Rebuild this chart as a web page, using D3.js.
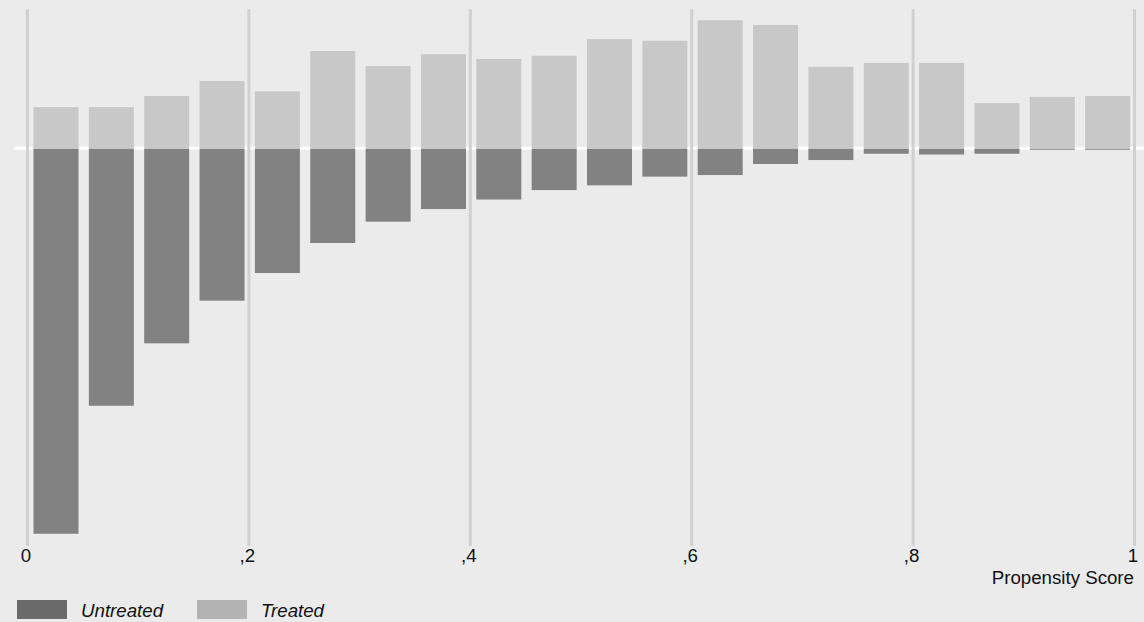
<!DOCTYPE html>
<html>
<head>
<meta charset="utf-8">
<script src="https://cdn.jsdelivr.net/npm/d3@7"></script>
<style>
  html, body { margin: 0; padding: 0; background: #ebebeb; }
  svg { display: block; font-family: "Liberation Sans", Arial, Helvetica, sans-serif; }
</style>
</head>
<body>
<svg id="chart" width="1144" height="622"></svg>
<script>
// ---- data (densities per 0.05-wide propensity score bin) ----
const binStarts = [0, 0.05, 0.10, 0.15, 0.20, 0.25, 0.30, 0.35, 0.40, 0.45,
                   0.50, 0.55, 0.60, 0.65, 0.70, 0.75, 0.80, 0.85, 0.90, 0.95];
const binWidth = 0.05;
const treated = [0.53, 0.53, 0.67, 0.86, 0.73, 1.24, 1.05, 1.20, 1.14, 1.18,
                 1.39, 1.37, 1.63, 1.57, 1.04, 1.09, 1.09, 0.58, 0.66, 0.67];
const untreated = [4.87, 3.25, 2.46, 1.92, 1.57, 1.19, 0.92, 0.76, 0.64, 0.52,
                   0.46, 0.35, 0.33, 0.19, 0.14, 0.06, 0.07, 0.06, 0.01, 0.01];
const xTicks = [0, 0.2, 0.4, 0.6, 0.8, 1];
const xTickLabels = ["0", ",2", ",4", ",6", ",8", "1"];
const legendLabels = ["Untreated", "Treated"];
const xTitle = "Propensity Score";

// ---- layout ----
const svg = d3.select("#chart");
const x = d3.scaleLinear().domain([0, 1]).range([27.5, 1134.5]);
const y = d3.scaleLinear().domain([-5.025, 1.768]).range([546, 9.3]);
const FS = 18.7;

svg.append("rect").attr("width", 1144).attr("height", 622).attr("fill", "#ebebeb");

// zero line
svg.append("line")
  .attr("x1", 14).attr("x2", 1144)
  .attr("y1", y(0) - 0.8).attr("y2", y(0) - 0.8)
  .attr("stroke", "#ffffff").attr("stroke-width", 3);

// vertical gridlines
svg.append("g").selectAll("line").data(xTicks).join("line")
  .attr("x1", d => x(d)).attr("x2", d => x(d))
  .attr("y1", y.range()[1]).attr("y2", y.range()[0])
  .attr("stroke", "#d0d0d0").attr("stroke-width", 3);

const bw = x(binWidth) - x(0);
const barW = bw * 0.813;
const barX = d => x(d) + 6;

// treated bars (upwards)
svg.append("g").selectAll("rect").data(binStarts).join("rect")
  .attr("x", d => barX(d))
  .attr("width", barW)
  .attr("y", (d, i) => y(treated[i]))
  .attr("height", (d, i) => y(0) - y(treated[i]))
  .attr("fill", "#c8c8c8");

// untreated bars (downwards)
svg.append("g").selectAll("rect").data(binStarts).join("rect")
  .attr("x", d => barX(d))
  .attr("width", barW)
  .attr("y", y(0))
  .attr("height", (d, i) => y(-untreated[i]) - y(0))
  .attr("fill", "#828282");

// x axis tick labels
const axis = d3.axisBottom(x).tickValues(xTicks)
  .tickFormat((d, i) => xTickLabels[i]).tickSize(0).tickPadding(0);
const gAxis = svg.append("g").attr("transform", "translate(-2, 549)").call(axis);
gAxis.select(".domain").remove();
gAxis.selectAll("text")
  .attr("font-size", FS).attr("fill", "#111")
  .attr("font-family", "'Liberation Sans', Arial, sans-serif");

svg.append("text")
  .attr("x", 1134).attr("y", 584)
  .attr("text-anchor", "end")
  .attr("font-size", FS).attr("fill", "#111")
  .text(xTitle);

// legend
const legColors = ["#6a6a6a", "#b3b3b3"];
const legX = [17, 197];
const leg = svg.append("g");
legendLabels.forEach((lab, i) => {
  leg.append("rect").attr("x", legX[i]).attr("y", 600).attr("width", 50).attr("height", 19)
    .attr("fill", legColors[i]);
  leg.append("text").attr("x", legX[i] + 64).attr("y", 617)
    .attr("font-size", FS).attr("font-style", "italic").attr("fill", "#111")
    .text(lab);
});
</script>
</body>
</html>
